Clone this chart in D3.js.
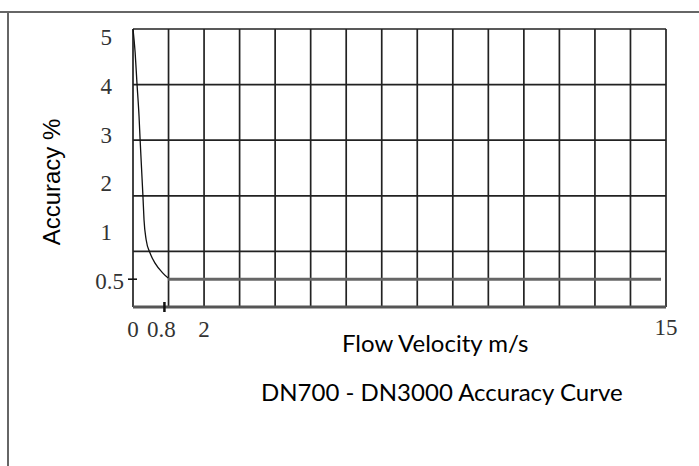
<!DOCTYPE html>
<html>
<head>
<meta charset="utf-8">
<script src="https://cdn.jsdelivr.net/npm/d3@7"></script>
<style>
  html, body { margin: 0; padding: 0; background: #fff; }
  svg { display: block; }
</style>
</head>
<body>
<svg id="chart" width="699" height="466"></svg>
<script>
// ---- data ----
const curveVelocity = [0, 0.06, 0.11, 0.17, 0.2, 0.28, 0.31, 0.37, 0.48, 0.62, 0.84, 0.99];
const curveAccuracy = [5.0, 4.58, 4.04, 3.43, 3.01, 1.99, 1.57, 1.21, 0.97, 0.79, 0.61, 0.52];
const flatVelocity = [0.99, 14.86];
const flatAccuracy = [0.5, 0.5];
const xGridValues = d3.range(0, 16);
const yGridValues = [1, 2, 3, 4, 5];
const xTickValues = [0, 0.8, 2, 15];
const xTickLabels = ["0", "0.8", "2", "15"];
const yTickLabels = ["5", "4", "3", "2", "1", "0.5"];
const xTitle = "Flow Velocity m/s";
const yTitle = "Accuracy %";
const chartTitle = "DN700 - DN3000 Accuracy Curve";

// ---- layout ----
const svg = d3.select("#chart");
const pLeft = 133, pRight = 666, pTop = 29, pBottom = 307;
const x = d3.scaleLinear().domain([0, 15]).range([pLeft, pRight]);
const y = d3.scaleLinear().domain([0, 5]).range([pBottom, pTop]);
// the printed y labels are evenly spaced down the axis
const yLabel = d3.scalePoint().domain(yTickLabels).range([37, 281]);

// page frame lines
svg.append("line").attr("x1", 0).attr("x2", 699).attr("y1", 12).attr("y2", 12)
  .attr("stroke", "#666").attr("stroke-width", 2);
svg.append("line").attr("x1", 8).attr("x2", 8).attr("y1", 12).attr("y2", 466)
  .attr("stroke", "#666").attr("stroke-width", 2);

// grid
const grid = svg.append("g");
grid.selectAll("line.v").data(xGridValues).join("line")
  .attr("x1", d => x(d)).attr("x2", d => x(d))
  .attr("y1", pTop).attr("y2", pBottom)
  .attr("stroke", "#222").attr("stroke-width", 1.7);
grid.selectAll("line.h").data(yGridValues).join("line")
  .attr("x1", pLeft).attr("x2", pRight)
  .attr("y1", d => y(d)).attr("y2", d => y(d))
  .attr("stroke", "#222").attr("stroke-width", 1.7);
// bottom axis line
svg.append("line").attr("x1", pLeft).attr("x2", pRight).attr("y1", y(0)).attr("y2", y(0))
  .attr("stroke", "#555").attr("stroke-width", 3);

// ticks
svg.append("line").attr("x1", pLeft - 5).attr("x2", pLeft + 4)
  .attr("y1", y(0.5)).attr("y2", y(0.5)).attr("stroke", "#111").attr("stroke-width", 1.6);
svg.append("line").attr("x1", x(0.8) + 3).attr("x2", x(0.8) + 3)
  .attr("y1", y(0) - 5).attr("y2", y(0) + 5).attr("stroke", "#111").attr("stroke-width", 2.5);

// curve
const line = d3.line().x(d => x(d[0])).y(d => y(d[1])).curve(d3.curveMonotoneX);
svg.append("path")
  .datum(curveVelocity.map((v, i) => [v, curveAccuracy[i]]))
  .attr("d", line).attr("fill", "none").attr("stroke", "#111").attr("stroke-width", 1.3);
svg.append("path")
  .datum(flatVelocity.map((v, i) => [v, flatAccuracy[i]]))
  .attr("d", d3.line().x(d => x(d[0])).y(d => y(d[1])))
  .attr("fill", "none").attr("stroke", "#666").attr("stroke-width", 3);

// tick labels (serif)
svg.selectAll("text.yt").data(yTickLabels).join("text")
  .attr("x", d => d === "0.5" ? pLeft - 9 : pLeft - 21)
  .attr("y", d => yLabel(d) + 8)
  .attr("text-anchor", "end")
  .attr("font-family", "Liberation Serif, Times New Roman, serif")
  .attr("font-size", 23).attr("fill", "#333")
  .text(d => d);
svg.selectAll("text.xt").data(xTickValues).join("text")
  .attr("x", d => x(d))
  .attr("y", (d, i) => i === 3 ? 335 : 337)
  .attr("text-anchor", "middle")
  .attr("font-family", "Liberation Serif, Times New Roman, serif")
  .attr("font-size", 23).attr("fill", "#333")
  .text((d, i) => xTickLabels[i]);

// titles
svg.append("text").attr("x", 342).attr("y", 352)
  .attr("font-family", "Lato, Open Sans, sans-serif").attr("font-size", 24).attr("fill", "#000")
  .text(xTitle);
svg.append("text").attr("x", 261).attr("y", 401)
  .attr("font-family", "Lato, Open Sans, sans-serif").attr("font-size", 24).attr("fill", "#000")
  .text(chartTitle);
svg.append("text")
  .attr("transform", "translate(60,182) rotate(-90)")
  .attr("text-anchor", "middle")
  .attr("font-family", "Liberation Sans, Arial, sans-serif").attr("font-size", 24).attr("fill", "#000")
  .text(yTitle);
</script>
</body>
</html>
